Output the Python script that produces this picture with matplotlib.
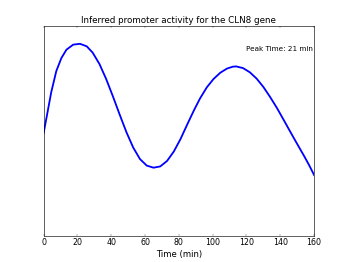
import numpy as np
import matplotlib
matplotlib.use('Agg')
from matplotlib import pyplot as plt

plt.style.use('classic')

# time points (min) and inferred promoter activity
time = [0, 2.5, 4.5, 7.5, 10.5, 13.5, 17.5, 21.5, 25.5, 29, 33, 37, 41, 45, 49,
        53, 57, 61, 65, 69, 73, 77, 81, 85, 89, 92.5, 96.5, 100.5, 104.5, 108.5,
        112, 114, 118, 122, 126, 130, 134, 138, 142, 146, 150, 154, 157, 160]
activity = [0.490, 0.598, 0.685, 0.786, 0.848, 0.888, 0.912, 0.916, 0.904, 0.874,
            0.820, 0.748, 0.665, 0.578, 0.494, 0.421, 0.366, 0.335, 0.325, 0.331,
            0.357, 0.402, 0.462, 0.532, 0.600, 0.655, 0.708, 0.748, 0.778, 0.798,
            0.807, 0.808, 0.800, 0.780, 0.750, 0.710, 0.662, 0.610, 0.553, 0.495,
            0.438, 0.382, 0.338, 0.290]
peak_time = 21

dpi = 43.625
fig = plt.figure(figsize=(8, 262 / dpi), dpi=dpi)
ax = fig.add_subplot(111)

ax.plot(time, activity, 'b-', linewidth=3)
ax.set_xlim(0, 160)
ax.set_ylim(0, 1)
ax.set_xticks(range(0, 161, 20))
ax.set_yticks([])
ax.tick_params(labelsize=13)

ax.set_title('Inferred promoter activity for the CLN8 gene', fontsize=14.4)
ax.set_xlabel('Time (min)', fontsize=14)
ax.text(0.995, 0.891, 'Peak Time: %d min' % peak_time, transform=ax.transAxes,
        ha='right', va='center', fontsize=12)

fig.savefig('out.png', dpi=dpi)
